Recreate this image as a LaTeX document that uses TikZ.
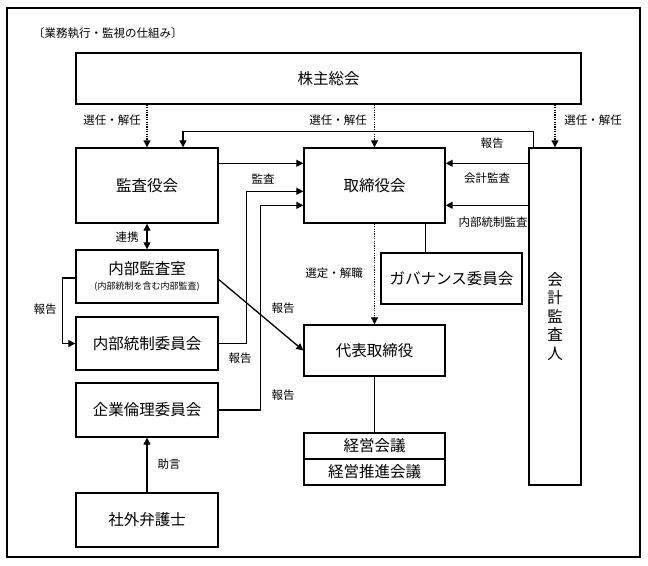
\documentclass[tikz,border=0pt]{standalone}
\usepackage{fontspec}
\setmainfont{Noto Sans CJK JP}
\usetikzlibrary{arrows.meta,calc}
\begin{document}
\begin{tikzpicture}[x=1pt,y=-1pt,
  box/.style={draw, line width=1.4pt, inner sep=0pt, font=\fontsize{15.5}{18}\selectfont},
  lbl/.style={font=\fontsize{11.5}{13}\selectfont, inner sep=0pt},
  arr/.style={line width=1.3pt, -{Triangle[length=7pt,width=7pt]}},
  dotarr/.style={line width=1.3pt, dash pattern=on 1.2pt off 1.2pt, -{Triangle[length=7pt,width=7pt]}},
  ln/.style={line width=1.3pt}]
\useasboundingbox (0,0) rectangle (648,565);
\draw[line width=1.5pt] (7,8) rectangle (640,557);
\node[lbl, anchor=west] (title) at (33,33) {〔業務執行・監視の仕組み〕};

% boxes
\node[box, minimum width=505pt, minimum height=51pt] (kabu) at (328.5,78.5) {株主総会};
\node[box, minimum width=142pt, minimum height=75pt] (kansa) at (147,185.5) {監査役会};
\node[box, minimum width=141pt, minimum height=75pt] (tori) at (374.5,185.5) {取締役会};
\node[box, minimum width=52pt, minimum height=337pt, align=center, font=\fontsize{15.5}{18.5}\selectfont] (kaikei) at (555,316.5) {会\\計\\監\\査\\人};
\node[box, minimum width=142pt, minimum height=53pt, align=center] (naibu) at (147,276.5) {内部監査室\\[-3pt]{\fontsize{9}{10}\selectfont (内部統制を含む内部監査)}};
\node[box, minimum width=142pt, minimum height=53pt] (tousei) at (147,343.5) {内部統制委員会};
\node[box, minimum width=142pt, minimum height=54pt] (rinri) at (147,410) {企業倫理委員会};
\node[box, minimum width=142pt, minimum height=54pt] (bengo) at (147,520) {社外弁護士};
\node[box, minimum width=141pt, minimum height=51pt] (gov) at (451.5,278.5) {ガバナンス委員会};
\node[box, minimum width=141pt, minimum height=51pt] (daihyo) at (374.5,350.5) {代表取締役};
\node[box, minimum width=141pt, minimum height=26pt] (keiei1) at (374.5,446) {経営会議};
\node[box, minimum width=141pt, minimum height=26pt] (keiei2) at (374.5,472) {経営推進会議};

% dotted election arrows
\draw[dotarr] (kabu.south -| kansa.north) -- (kansa.north);
\draw[dotarr] (kabu.south -| tori.north) -- (tori.north);
\draw[dotarr] (kabu.south -| kaikei.north) -- (kaikei.north);
\node[lbl] (s1) at (112,120) {選任・解任};
\node[lbl] (s2) at (338,120) {選任・解任};
\node[lbl] (s3) at (593,120) {選任・解任};

% report from auditor to kansa
\draw[arr] ($(kaikei.north west)+(5,0)$) -- ++(0,-16) -| ($(kansa.north)+(36,0)$);
\node[lbl] (r0) at (492,143) {報告};

% audits
\draw[arr] ($(kansa.north east)+(0,16)$) -- ($(tori.north west)+(0,16)$);
\node[lbl] (a1) at (263,179) {監査};
\draw[arr] ($(kaikei.north west)+(0,16)$) -- ($(tori.north east)+(0,16)$);
\node[lbl] (a2) at (487,178) {会計監査};
\draw[arr] ($(kaikei.north west)+(0,58)$) -- ($(tori.north east)+(0,58)$);
\node[lbl] (a3) at (493,222) {内部統制監査};

% committees to board
\draw[arr] (tousei.east) -- ++(28,0) |- ($(tori.north west)+(0,44)$);
\node[lbl] (r3) at (240,358) {報告};
\draw[arr] (rinri.east) -- ++(42,0) |- ($(tori.north west)+(0,58)$);
\node[lbl] (r4) at (283,395) {報告};

% board to governance
\coordinate (g) at ($(gov.north west)+(45,0)$);
\draw[ln] (tori.south -| g) -- (g);

% board to representative
\draw[dotarr] (tori.south) -- (daihyo.north);
\node[lbl] (s4) at (334,273) {選定・解職};

% kansa <-> naibu
\draw[line width=1.3pt, {Triangle[length=7pt,width=7pt]}-{Triangle[length=7pt,width=7pt]}] (kansa.south) -- (naibu.north);
\node[lbl] (c1) at (127,237) {連携};

% naibu -> tousei
\draw[arr] ($(naibu.west)+(0,1.5)$) -- ++(-13,0) |- (tousei.west);
\node[lbl] (r1) at (45,309) {報告};

% naibu -> daihyo
\draw[arr] ($(naibu.east)+(0,3)$) -- (daihyo.west);
\node[lbl] (r2) at (283,308) {報告};

% daihyo -> keiei
\draw[ln] (daihyo.south) -- (keiei1.north);

% bengo -> rinri
\draw[arr] (bengo.north) -- (rinri.south);
\node[lbl] (j1) at (169,464) {助言};
\end{tikzpicture}
\end{document}
